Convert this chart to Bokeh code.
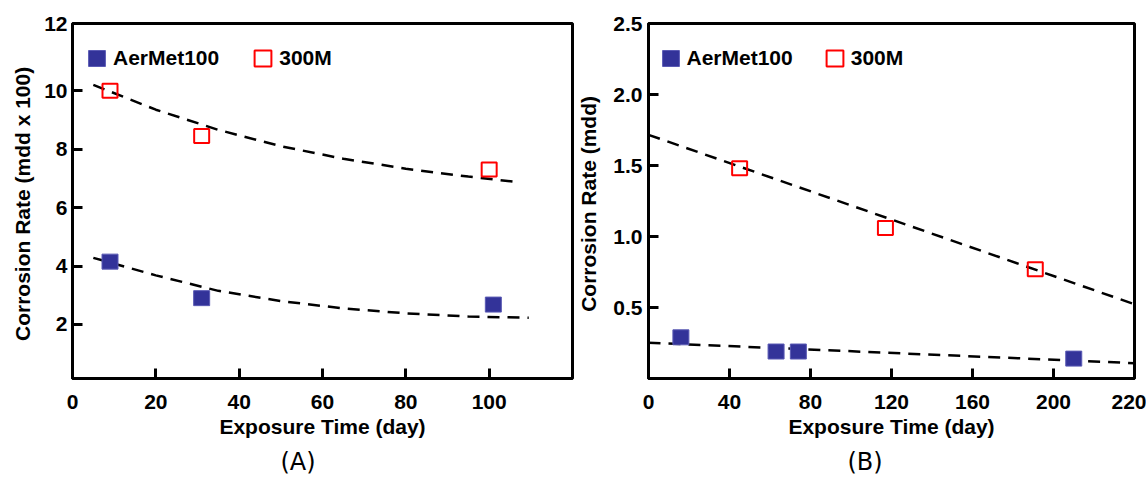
from bokeh.plotting import figure
from bokeh.layouts import row
from bokeh.models import FixedTicker, Legend, LegendItem, Title, Range1d
from bokeh.embed import file_html
from bokeh.resources import INLINE

# ---------------- Panel A data ----------------
a_aermet_x = [9, 31, 101]
a_aermet_y = [4.15, 2.9, 2.68]
a_300m_x = [9, 31, 100]
a_300m_y = [10.0, 8.45, 7.3]
# dashed trend curves
a_aermet_trend_x = [5, 20, 35, 50, 65, 80, 95, 109.5]
a_aermet_trend_y = [4.28, 3.68, 3.15, 2.8, 2.55, 2.38, 2.27, 2.23]
a_300m_trend_x = [5, 20, 35, 50, 65, 80, 95, 107.5]
a_300m_trend_y = [10.2, 9.35, 8.66, 8.1, 7.67, 7.33, 7.06, 6.86]
a_x_ticks = [0, 20, 40, 60, 80, 100]
a_x_tick_labels = ["0", "20", "40", "60", "80", "100"]
a_y_ticks = [2, 4, 6, 8, 10, 12.3]
a_y_tick_labels = ["2", "4", "6", "8", "10", "12"]
a_x_range = (0, 120)
a_y_range = (0.15, 12.3)

# ---------------- Panel B data ----------------
b_aermet_x = [16, 63, 74, 210]
b_aermet_y = [0.29, 0.19, 0.19, 0.14]
b_300m_x = [45, 117, 191]
b_300m_y = [1.48, 1.06, 0.77]
b_aermet_trend_x = [0, 240]
b_aermet_trend_y = [0.252, 0.108]
b_300m_trend_x = [0, 240]
b_300m_trend_y = [1.716, 0.523]
b_x_ticks = [0, 40, 80, 120, 160, 200, 240]
b_x_tick_labels = ["0", "40", "80", "120", "160", "200", "220"]
b_y_ticks = [0.5, 1.0, 1.5, 2.0, 2.5]
b_y_tick_labels = ["0.5", "1.0", "1.5", "2.0", "2.5"]
b_x_range = (0, 240)
b_y_range = (0, 2.5)

BLUE = "#333399"
BLUE_EDGE = "#5a5ab4"
RED = "#ff0000"
FONT = "Liberation Sans"


def make_panel(width, border_left, border_right, x_range, y_range, x_ticks, x_labels,
               y_ticks, y_labels, y_title, aer_x, aer_y, m_x, m_y, aer_tx, aer_ty,
               m_tx, m_ty, caption, caption_offset, ylab_standoff, ytitle_standoff,
               leg_x, leg_standoff, leg_spacing):
    p = figure(width=width, height=484, output_backend="svg", toolbar_location=None,
               x_range=Range1d(*x_range), y_range=Range1d(*y_range),
               min_border_left=border_left, min_border_right=border_right,
               min_border_top=23, min_border_bottom=106)
    p.xgrid.visible = False
    p.ygrid.visible = False
    p.background_fill_color = "white"
    p.border_fill_color = "white"
    p.outline_line_color = "black"
    p.outline_line_width = 3

    p.xaxis.ticker = FixedTicker(ticks=x_ticks)
    p.xaxis.major_label_overrides = {t: l for t, l in zip(x_ticks, x_labels)}
    p.yaxis.ticker = FixedTicker(ticks=y_ticks)
    p.yaxis.major_label_overrides = {t: l for t, l in zip(y_ticks, y_labels)}

    for ax in (p.xaxis[0], p.yaxis[0]):
        ax.axis_line_width = 3
        ax.axis_line_color = "black"
        ax.major_tick_line_width = 3
        ax.major_tick_line_color = "black"
        ax.major_tick_in = 10
        ax.major_tick_out = 0
        ax.minor_tick_line_color = None
        ax.major_label_text_font = FONT
        ax.major_label_text_font_style = "bold"
        ax.major_label_text_font_size = "21px"
        ax.major_label_text_color = "black"
        ax.axis_label_text_font = FONT
        ax.axis_label_text_font_style = "bold"
        ax.axis_label_text_font_size = "21px"
        ax.axis_label_text_color = "black"

    p.xaxis.axis_label = "Exposure Time (day)"
    p.xaxis.major_label_standoff = 16
    p.xaxis.axis_label_standoff = 3
    p.yaxis.axis_label = y_title
    p.yaxis.major_label_standoff = ylab_standoff
    p.yaxis.axis_label_standoff = ytitle_standoff

    p.line(aer_tx, aer_ty, line_color="black", line_width=2.5, line_dash="12 8")
    p.line(m_tx, m_ty, line_color="black", line_width=2.5, line_dash="12 8")

    r_aer = p.rect(aer_x, aer_y, width=16, height=15, width_units="screen",
                   height_units="screen", fill_color=BLUE, line_color=BLUE_EDGE, line_width=1)
    r_m = p.rect(m_x, m_y, width=15, height=14, width_units="screen",
                 height_units="screen", fill_color=None, line_color=RED, line_width=2)

    legend = Legend(items=[LegendItem(label="AerMet100", renderers=[r_aer]),
                           LegendItem(label="300M", renderers=[r_m])],
                    orientation="horizontal", location=(leg_x, 308),
                    margin=0, padding=0, spacing=leg_spacing,
                    glyph_width=21, glyph_height=20, label_standoff=leg_standoff,
                    label_text_font=FONT, label_text_font_style="bold",
                    label_text_font_size="21px", label_text_color="black",
                    border_line_color=None, background_fill_alpha=0)
    p.add_layout(legend)

    cap = Title(text=caption, align="left", offset=caption_offset,
                vertical_align="bottom", standoff=11,
                text_font="DejaVu Sans", text_font_style="normal",
                text_font_size="24px", text_color="black")
    p.add_layout(cap, "below")
    return p


pA = make_panel(574, 72, 2, a_x_range, a_y_range, a_x_ticks, a_x_tick_labels,
                a_y_ticks, a_y_tick_labels, "Corrosion Rate  (mdd x 100)",
                a_aermet_x, a_aermet_y, a_300m_x, a_300m_y,
                a_aermet_trend_x, a_aermet_trend_y, a_300m_trend_x, a_300m_trend_y,
                "(A)", 208, 5, 7, 14, 6, 33)

pB = make_panel(572, 72, 12, b_x_range, b_y_range, b_x_ticks, b_x_tick_labels,
                b_y_ticks, b_y_tick_labels, "Corrosion Rate  (mdd)",
                b_aermet_x, b_aermet_y, b_300m_x, b_300m_y,
                b_aermet_trend_x, b_aermet_trend_y, b_300m_trend_x, b_300m_trend_y,
                "(B)", 199, 6, 10, 11.5, 6, 31)

layout = row(pA, pB)
open("out.html", "w").write(file_html(layout, INLINE))
